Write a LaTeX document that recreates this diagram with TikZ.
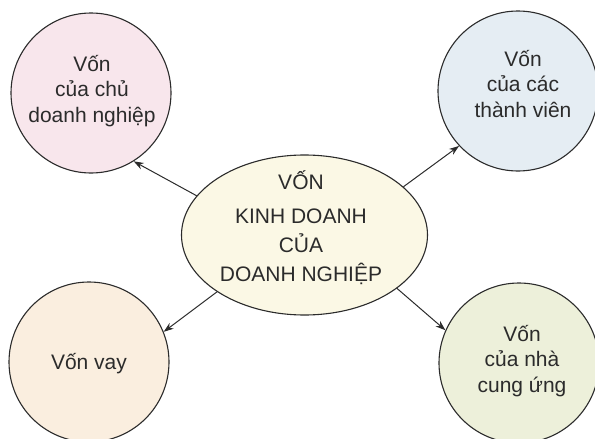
\documentclass[tikz,border=0pt]{standalone}
\usepackage{fontspec}
\setmainfont{Liberation Sans}
\usetikzlibrary{shapes.geometric,arrows.meta}
\definecolor{ink}{HTML}{2B2B2B}
\definecolor{fpink}{HTML}{F8E6EC}
\definecolor{fblue}{HTML}{E5EDF3}
\definecolor{fpeach}{HTML}{FAEEDF}
\definecolor{fgreen}{HTML}{EDF0DA}
\definecolor{fcream}{HTML}{FBF8E5}
\tikzset{
  bub/.style={circle, draw=ink, line width=1.1pt, minimum size=160pt, inner sep=0pt},
  core/.style={ellipse, draw=ink, line width=1.1pt, minimum width=246pt, minimum height=160pt, inner sep=0pt, fill=fcream},
  txt/.style={align=center, text=ink, font=\fontsize{21}{25.5}\selectfont, inner sep=0pt},
  link/.style={draw=ink, line width=1pt, -{Stealth[length=10pt,width=7pt]}}
}
\begin{document}
\begin{tikzpicture}[x=1pt,y=-1pt]
\useasboundingbox (0,0) rectangle (595,439);
\node[bub, fill=fpink] (tl) at (91,93) {};
\node[bub, fill=fblue] (tr) at (518,91) {};
\node[bub, fill=fpeach] (bl) at (89,362) {};
\node[bub, fill=fgreen] (br) at (519,363) {};
\node[core] (c) at (304.5,235) {};
\node[txt] (tlt) at (92,91) {Vốn\\của chủ\\doanh nghiệp};
\node[txt] (trt) at (523,84) {Vốn\\của các\\thành viên};
\node[txt] (blt) at (89,364) {Vốn vay};
\node[txt] (brt) at (522,361) {Vốn\\của nhà\\cung ứng};
\node[txt, font=\fontsize{21}{29}\selectfont] (ct) at (301,228) {VỐN\\[5pt]KINH DOANH\\CỦA\\DOANH NGHIỆP};
\draw[link] (c.160) -- (tl.-58);
\draw[link] (c.26) -- (tr.223);
\draw[link] (c.213) -- (bl.22);
\draw[link] (c.-30) -- (br.156);
\end{tikzpicture}
\end{document}
